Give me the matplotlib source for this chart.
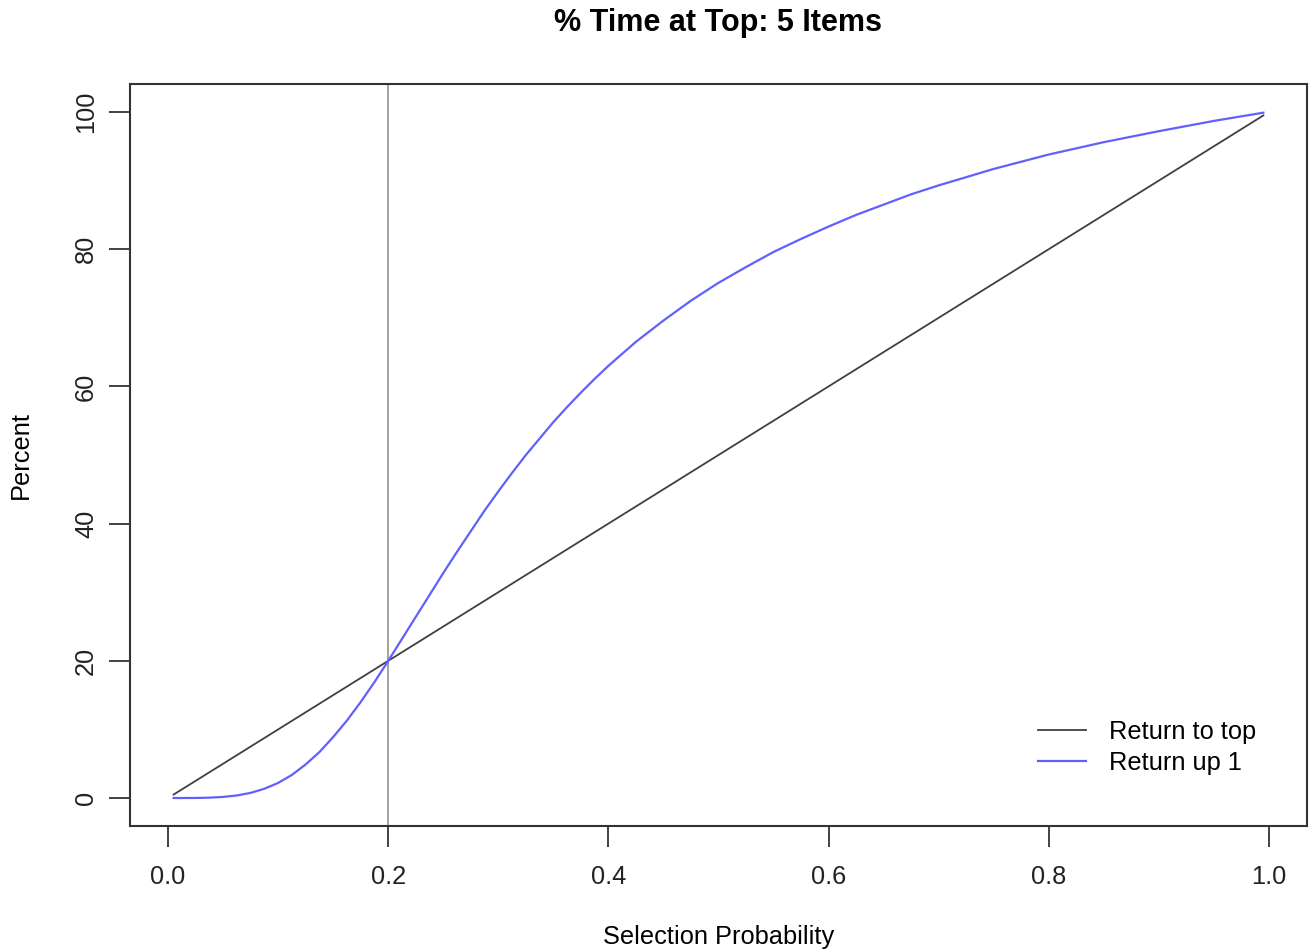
import matplotlib
matplotlib.use("Agg")
import matplotlib.pyplot as plt

plt.rcParams['font.family'] = ['Liberation Sans', 'DejaVu Sans']

title = "% Time at Top: 5 Items"
xlabel = "Selection Probability"
ylabel = "Percent"

# Selection probability values
prob = [0.005, 0.0125, 0.025, 0.0375, 0.05, 0.0625, 0.075, 0.0875, 0.1, 0.1125,
        0.125, 0.1375, 0.15, 0.1625, 0.175, 0.1875, 0.2, 0.2125, 0.225, 0.2375,
        0.25, 0.2625, 0.275, 0.2875, 0.3, 0.3125, 0.325, 0.3375, 0.35, 0.3625,
        0.375, 0.3875, 0.4, 0.425, 0.45, 0.475, 0.5, 0.525, 0.55, 0.575, 0.6,
        0.625, 0.65, 0.675, 0.7, 0.75, 0.8, 0.85, 0.9, 0.95, 0.995]
# Return to top (percent)
return_top = [0.5, 1.25, 2.5, 3.75, 5.0, 6.25, 7.5, 8.75, 10.0, 11.25,
              12.5, 13.75, 15.0, 16.25, 17.5, 18.75, 20.0, 21.25, 22.5, 23.75,
              25.0, 26.25, 27.5, 28.75, 30.0, 31.25, 32.5, 33.75, 35.0, 36.25,
              37.5, 38.75, 40.0, 42.5, 45.0, 47.5, 50.0, 52.5, 55.0, 57.5, 60.0,
              62.5, 65.0, 67.5, 70.0, 75.0, 80.0, 85.0, 90.0, 95.0, 99.5]
# Return up 1 (percent)
return_up1 = [0.0, 0.0, 0.01, 0.05, 0.16, 0.37, 0.75, 1.35, 2.2, 3.37,
              4.9, 6.7, 8.9, 11.3, 14.0, 16.9, 20.0, 23.2, 26.4, 29.6,
              32.8, 35.9, 38.9, 41.9, 44.7, 47.4, 50.0, 52.4, 54.8, 57.0,
              59.1, 61.1, 63.0, 66.5, 69.6, 72.5, 75.1, 77.4, 79.6, 81.5, 83.3,
              85.0, 86.5, 88.0, 89.3, 91.7, 93.8, 95.6, 97.2, 98.7, 99.9]
vline_x = 0.2
xticks = [0.0, 0.2, 0.4, 0.6, 0.8, 1.0]
xticklabels = ["0.0", "0.2", "0.4", "0.6", "0.8", "1.0"]
yticks = [0, 20, 40, 60, 80, 100]
yticklabels = ["0", "20", "40", "60", "80", "100"]
legend_labels = ["Return to top", "Return up 1"]

W, H = 1315, 951
FS = 18.3
fig = plt.figure(figsize=(W / 100, H / 100), dpi=100)
ax = fig.add_axes([130 / W, 1 - 826 / H, (1307 - 130) / W, (826 - 84) / H])

ax.axvline(vline_x, color='#9a9a9a', lw=1.3, zorder=1)
l1, = ax.plot(prob, return_top, color='#404040', lw=1.3, zorder=2)
l2, = ax.plot(prob, return_up1, color='#6060ff', lw=1.6, zorder=3)

ax.set_xlim(-0.0346, 1.0346)
ax.set_ylim(-4.08, 104.08)
ax.set_xticks(xticks)
ax.set_xticklabels(xticklabels)
ax.set_yticks(yticks)
ax.set_yticklabels(yticklabels, rotation=90, va='center')
ax.tick_params(direction='out', length=15, width=1.2, labelsize=FS,
               colors='#222222', pad=13)
ax.tick_params(axis='y', pad=8)
for s in ax.spines.values():
    s.set_linewidth(1.5)
    s.set_color('#333333')

ax.set_xlabel(xlabel, fontsize=FS, labelpad=26)
ax.set_ylabel(ylabel, fontsize=FS, labelpad=30)
fig.suptitle(title, fontsize=22, fontweight='bold', x=718.5 / W, y=1 - 23 / H,
             va='center', ha='center')

leg = fig.legend([l1, l2], legend_labels, loc='upper left', frameon=False,
                 fontsize=FS, handlelength=1.9, handletextpad=0.9,
                 labelspacing=0.28, borderpad=0, borderaxespad=0,
                 bbox_to_anchor=(1038 / W, 1 - 720 / H))

fig.savefig("out.png", dpi=100)
